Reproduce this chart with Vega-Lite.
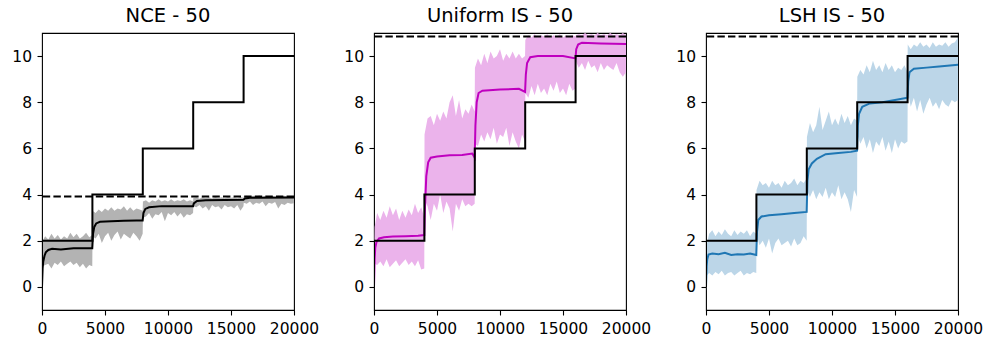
{
"$schema": "https://vega.github.io/schema/vega-lite/v6.json",
"padding": {"left": 11, "top": 4, "right": 0, "bottom": 0},
"bounds": "flush",
"spacing": 80,
"config": {
  "view": {"stroke": "black", "strokeWidth": 1.1},
  "axis": {"labelFont": "DejaVu Sans", "labelFontSize": 15.5, "labelColor": "black", "tickColor": "black", "tickSize": 5, "tickWidth": 1.1, "domain": false, "grid": false, "labelFlush": false, "labelOverlap": false, "title": null},
  "axisX": {"labelPadding": 6.5, "format": "d"},
  "axisY": {"labelPadding": 5.5},
  "title": {"font": "DejaVu Sans", "fontSize": 19.5, "fontWeight": "normal", "color": "black", "offset": 7}
},
"datasets": {
  "step": [
    {"x":0,"s":0,"i":0},{"x":0,"s":2,"i":1},{"x":4000,"s":2,"i":2},{"x":4000,"s":4,"i":3},{"x":8000,"s":4,"i":4},{"x":8000,"s":6,"i":5},{"x":12000,"s":6,"i":6},{"x":12000,"s":8,"i":7},{"x":16000,"s":8,"i":8},{"x":16000,"s":10,"i":9},{"x":20000,"s":10,"i":10}
  ],
  "ref": [{"p":"NCE","r":3.92},{"p":"UIS","r":10.85},{"p":"LSH","r":10.85}],
  "band": [
    {"p":"NCE","x":0,"lo":0,"hi":0.3},{"p":"NCE","x":50,"lo":0.9,"hi":2.0},{"p":"NCE","x":250,"lo":0.95,"hi":2.2},{"p":"NCE","x":500,"lo":1.0,"hi":2.05},{"p":"NCE","x":750,"lo":0.8,"hi":2.3},{"p":"NCE","x":1000,"lo":1.05,"hi":2.1},{"p":"NCE","x":1250,"lo":0.95,"hi":2.25},{"p":"NCE","x":1500,"lo":1.1,"hi":2.05},{"p":"NCE","x":1750,"lo":0.9,"hi":2.2},{"p":"NCE","x":2000,"lo":1.0,"hi":2.1},{"p":"NCE","x":2250,"lo":1.1,"hi":2.35},{"p":"NCE","x":2500,"lo":0.95,"hi":2.15},{"p":"NCE","x":2750,"lo":1.05,"hi":2.3},{"p":"NCE","x":3000,"lo":0.85,"hi":2.1},{"p":"NCE","x":3250,"lo":1.0,"hi":2.2},{"p":"NCE","x":3500,"lo":0.8,"hi":2.35},{"p":"NCE","x":3750,"lo":0.95,"hi":2.15},{"p":"NCE","x":3990,"lo":0.9,"hi":2.25},
    {"p":"NCE","x":4010,"lo":2.2,"hi":3.3},{"p":"NCE","x":4250,"lo":2.1,"hi":3.2},{"p":"NCE","x":4500,"lo":2.3,"hi":3.35},{"p":"NCE","x":4750,"lo":1.9,"hi":3.25},{"p":"NCE","x":5000,"lo":2.2,"hi":3.4},{"p":"NCE","x":5250,"lo":2.35,"hi":3.3},{"p":"NCE","x":5500,"lo":2.0,"hi":3.45},{"p":"NCE","x":5750,"lo":2.25,"hi":3.3},{"p":"NCE","x":6000,"lo":2.4,"hi":3.4},{"p":"NCE","x":6250,"lo":2.05,"hi":3.35},{"p":"NCE","x":6500,"lo":2.3,"hi":3.5},{"p":"NCE","x":6750,"lo":2.2,"hi":3.3},{"p":"NCE","x":7000,"lo":2.1,"hi":3.45},{"p":"NCE","x":7250,"lo":2.35,"hi":3.3},{"p":"NCE","x":7500,"lo":2.2,"hi":3.4},{"p":"NCE","x":7750,"lo":2.0,"hi":3.35},{"p":"NCE","x":7990,"lo":2.3,"hi":3.3},
    {"p":"NCE","x":8010,"lo":3.0,"hi":3.7},{"p":"NCE","x":8250,"lo":3.05,"hi":3.75},{"p":"NCE","x":8500,"lo":3.2,"hi":3.65},{"p":"NCE","x":8750,"lo":2.95,"hi":3.75},{"p":"NCE","x":9000,"lo":3.15,"hi":3.7},{"p":"NCE","x":9250,"lo":3.1,"hi":3.8},{"p":"NCE","x":9500,"lo":3.25,"hi":3.7},{"p":"NCE","x":9750,"lo":2.85,"hi":3.75},{"p":"NCE","x":10000,"lo":3.2,"hi":3.7},{"p":"NCE","x":10250,"lo":3.1,"hi":3.8},{"p":"NCE","x":10500,"lo":3.25,"hi":3.7},{"p":"NCE","x":10750,"lo":3.05,"hi":3.75},{"p":"NCE","x":11000,"lo":3.2,"hi":3.72},{"p":"NCE","x":11250,"lo":3.0,"hi":3.8},{"p":"NCE","x":11500,"lo":3.15,"hi":3.7},{"p":"NCE","x":11750,"lo":3.1,"hi":3.75},{"p":"NCE","x":11990,"lo":3.2,"hi":3.7},
    {"p":"NCE","x":12010,"lo":3.5,"hi":3.85},{"p":"NCE","x":12250,"lo":3.45,"hi":3.88},{"p":"NCE","x":12500,"lo":3.55,"hi":3.82},{"p":"NCE","x":12750,"lo":3.4,"hi":3.9},{"p":"NCE","x":13000,"lo":3.5,"hi":3.85},{"p":"NCE","x":13250,"lo":3.3,"hi":3.88},{"p":"NCE","x":13500,"lo":3.55,"hi":3.83},{"p":"NCE","x":13750,"lo":3.45,"hi":3.9},{"p":"NCE","x":14000,"lo":3.5,"hi":3.85},{"p":"NCE","x":14250,"lo":3.35,"hi":3.88},{"p":"NCE","x":14500,"lo":3.55,"hi":3.84},{"p":"NCE","x":14750,"lo":3.45,"hi":3.9},{"p":"NCE","x":15000,"lo":3.5,"hi":3.86},{"p":"NCE","x":15250,"lo":3.4,"hi":3.88},{"p":"NCE","x":15500,"lo":3.55,"hi":3.84},{"p":"NCE","x":15750,"lo":3.3,"hi":3.9},{"p":"NCE","x":15990,"lo":3.5,"hi":3.86},
    {"p":"NCE","x":16010,"lo":3.65,"hi":3.92},{"p":"NCE","x":16250,"lo":3.6,"hi":3.95},{"p":"NCE","x":16500,"lo":3.7,"hi":3.9},{"p":"NCE","x":16750,"lo":3.55,"hi":3.95},{"p":"NCE","x":17000,"lo":3.65,"hi":3.92},{"p":"NCE","x":17250,"lo":3.6,"hi":3.96},{"p":"NCE","x":17500,"lo":3.7,"hi":3.9},{"p":"NCE","x":17750,"lo":3.5,"hi":3.95},{"p":"NCE","x":18000,"lo":3.65,"hi":3.92},{"p":"NCE","x":18250,"lo":3.6,"hi":3.94},{"p":"NCE","x":18500,"lo":3.68,"hi":3.9},{"p":"NCE","x":18750,"lo":3.4,"hi":3.95},{"p":"NCE","x":19000,"lo":3.6,"hi":3.92},{"p":"NCE","x":19250,"lo":3.55,"hi":3.95},{"p":"NCE","x":19500,"lo":3.65,"hi":3.9},{"p":"NCE","x":19750,"lo":3.6,"hi":3.94},{"p":"NCE","x":20000,"lo":3.62,"hi":3.92},

    {"p":"UIS","x":0,"lo":0,"hi":0.2},{"p":"UIS","x":50,"lo":1.0,"hi":2.6},{"p":"UIS","x":250,"lo":0.95,"hi":3.2},{"p":"UIS","x":500,"lo":1.1,"hi":2.9},{"p":"UIS","x":750,"lo":0.9,"hi":3.3},{"p":"UIS","x":1000,"lo":1.2,"hi":3.0},{"p":"UIS","x":1250,"lo":0.85,"hi":3.5},{"p":"UIS","x":1500,"lo":1.0,"hi":3.1},{"p":"UIS","x":1750,"lo":1.15,"hi":3.4},{"p":"UIS","x":2000,"lo":0.9,"hi":2.9},{"p":"UIS","x":2250,"lo":1.05,"hi":3.3},{"p":"UIS","x":2500,"lo":1.2,"hi":3.0},{"p":"UIS","x":2750,"lo":0.95,"hi":3.35},{"p":"UIS","x":3000,"lo":1.1,"hi":3.1},{"p":"UIS","x":3250,"lo":0.9,"hi":3.6},{"p":"UIS","x":3500,"lo":1.15,"hi":3.2},{"p":"UIS","x":3750,"lo":0.75,"hi":3.45},{"p":"UIS","x":3990,"lo":0.8,"hi":3.0},
    {"p":"UIS","x":4010,"lo":3.8,"hi":6.6},{"p":"UIS","x":4250,"lo":3.5,"hi":7.3},{"p":"UIS","x":4500,"lo":2.9,"hi":7.4},{"p":"UIS","x":4750,"lo":3.6,"hi":7.0},{"p":"UIS","x":5000,"lo":3.3,"hi":7.5},{"p":"UIS","x":5250,"lo":4.0,"hi":7.2},{"p":"UIS","x":5500,"lo":3.2,"hi":7.6},{"p":"UIS","x":5750,"lo":3.7,"hi":7.3},{"p":"UIS","x":6000,"lo":3.4,"hi":8.0},{"p":"UIS","x":6250,"lo":2.4,"hi":8.3},{"p":"UIS","x":6500,"lo":3.6,"hi":7.4},{"p":"UIS","x":6750,"lo":3.3,"hi":8.1},{"p":"UIS","x":7000,"lo":3.8,"hi":7.3},{"p":"UIS","x":7250,"lo":3.5,"hi":7.7},{"p":"UIS","x":7500,"lo":3.6,"hi":7.5},{"p":"UIS","x":7750,"lo":3.5,"hi":7.9},{"p":"UIS","x":7990,"lo":3.6,"hi":7.6},
    {"p":"UIS","x":8010,"lo":6.2,"hi":9.5},{"p":"UIS","x":8250,"lo":6.1,"hi":9.9},{"p":"UIS","x":8500,"lo":6.6,"hi":9.6},{"p":"UIS","x":8750,"lo":6.3,"hi":10.1},{"p":"UIS","x":9000,"lo":6.7,"hi":9.7},{"p":"UIS","x":9250,"lo":6.4,"hi":10.2},{"p":"UIS","x":9500,"lo":6.9,"hi":9.9},{"p":"UIS","x":9750,"lo":6.2,"hi":10.0},{"p":"UIS","x":10000,"lo":6.6,"hi":10.3},{"p":"UIS","x":10250,"lo":6.5,"hi":9.8},{"p":"UIS","x":10500,"lo":6.9,"hi":10.1},{"p":"UIS","x":10750,"lo":6.1,"hi":9.9},{"p":"UIS","x":11000,"lo":6.7,"hi":10.2},{"p":"UIS","x":11250,"lo":6.3,"hi":9.9},{"p":"UIS","x":11500,"lo":6.0,"hi":10.1},{"p":"UIS","x":11750,"lo":6.6,"hi":9.9},{"p":"UIS","x":11990,"lo":6.3,"hi":10.0},
    {"p":"UIS","x":12010,"lo":8.4,"hi":10.7},{"p":"UIS","x":12250,"lo":8.2,"hi":10.9},{"p":"UIS","x":12500,"lo":8.7,"hi":10.8},{"p":"UIS","x":12750,"lo":8.3,"hi":10.95},{"p":"UIS","x":13000,"lo":8.8,"hi":10.8},{"p":"UIS","x":13250,"lo":8.4,"hi":10.9},{"p":"UIS","x":13500,"lo":8.6,"hi":10.85},{"p":"UIS","x":13750,"lo":8.3,"hi":10.95},{"p":"UIS","x":14000,"lo":8.8,"hi":10.8},{"p":"UIS","x":14250,"lo":8.5,"hi":10.9},{"p":"UIS","x":14500,"lo":8.9,"hi":10.85},{"p":"UIS","x":14750,"lo":8.4,"hi":10.95},{"p":"UIS","x":15000,"lo":8.6,"hi":10.8},{"p":"UIS","x":15250,"lo":8.3,"hi":10.9},{"p":"UIS","x":15500,"lo":8.8,"hi":10.85},{"p":"UIS","x":15750,"lo":8.5,"hi":10.9},{"p":"UIS","x":15990,"lo":8.6,"hi":10.85},
    {"p":"UIS","x":16010,"lo":9.8,"hi":10.9},{"p":"UIS","x":16250,"lo":9.5,"hi":10.95},{"p":"UIS","x":16500,"lo":9.7,"hi":10.9},{"p":"UIS","x":16750,"lo":9.4,"hi":11.0},{"p":"UIS","x":17000,"lo":9.8,"hi":10.9},{"p":"UIS","x":17250,"lo":9.5,"hi":10.95},{"p":"UIS","x":17500,"lo":9.6,"hi":10.9},{"p":"UIS","x":17750,"lo":9.3,"hi":11.0},{"p":"UIS","x":18000,"lo":9.7,"hi":10.9},{"p":"UIS","x":18250,"lo":9.4,"hi":10.95},{"p":"UIS","x":18500,"lo":9.6,"hi":10.9},{"p":"UIS","x":18750,"lo":9.5,"hi":11.0},{"p":"UIS","x":19000,"lo":9.4,"hi":10.9},{"p":"UIS","x":19250,"lo":9.7,"hi":10.95},{"p":"UIS","x":19500,"lo":9.3,"hi":10.9},{"p":"UIS","x":19750,"lo":9.1,"hi":11.0},{"p":"UIS","x":20000,"lo":9.3,"hi":10.9},

    {"p":"LSH","x":0,"lo":-0.2,"hi":0.3},{"p":"LSH","x":50,"lo":0.5,"hi":1.8},{"p":"LSH","x":250,"lo":0.6,"hi":2.3},{"p":"LSH","x":500,"lo":0.5,"hi":2.45},{"p":"LSH","x":750,"lo":0.65,"hi":2.2},{"p":"LSH","x":1000,"lo":0.55,"hi":2.4},{"p":"LSH","x":1250,"lo":0.7,"hi":2.25},{"p":"LSH","x":1500,"lo":0.5,"hi":2.5},{"p":"LSH","x":1750,"lo":0.6,"hi":2.3},{"p":"LSH","x":2000,"lo":0.65,"hi":2.2},{"p":"LSH","x":2250,"lo":0.5,"hi":2.45},{"p":"LSH","x":2500,"lo":0.6,"hi":2.25},{"p":"LSH","x":2750,"lo":0.7,"hi":2.4},{"p":"LSH","x":3000,"lo":0.5,"hi":2.3},{"p":"LSH","x":3250,"lo":0.6,"hi":2.45},{"p":"LSH","x":3500,"lo":0.55,"hi":2.2},{"p":"LSH","x":3750,"lo":0.65,"hi":2.4},{"p":"LSH","x":3990,"lo":0.6,"hi":2.3},
    {"p":"LSH","x":4010,"lo":2.3,"hi":4.2},{"p":"LSH","x":4250,"lo":1.8,"hi":4.6},{"p":"LSH","x":4500,"lo":2.0,"hi":4.4},{"p":"LSH","x":4750,"lo":1.7,"hi":4.5},{"p":"LSH","x":5000,"lo":2.1,"hi":4.3},{"p":"LSH","x":5250,"lo":1.45,"hi":4.6},{"p":"LSH","x":5500,"lo":1.9,"hi":4.4},{"p":"LSH","x":5750,"lo":2.1,"hi":4.5},{"p":"LSH","x":6000,"lo":1.8,"hi":4.3},{"p":"LSH","x":6250,"lo":1.9,"hi":4.6},{"p":"LSH","x":6500,"lo":2.0,"hi":4.4},{"p":"LSH","x":6750,"lo":1.75,"hi":4.5},{"p":"LSH","x":7000,"lo":2.1,"hi":4.7},{"p":"LSH","x":7250,"lo":1.8,"hi":4.4},{"p":"LSH","x":7500,"lo":1.9,"hi":4.6},{"p":"LSH","x":7750,"lo":2.2,"hi":4.5},{"p":"LSH","x":7990,"lo":2.0,"hi":4.7},
    {"p":"LSH","x":8010,"lo":4.2,"hi":6.5},{"p":"LSH","x":8250,"lo":3.9,"hi":7.1},{"p":"LSH","x":8500,"lo":4.2,"hi":6.7},{"p":"LSH","x":8750,"lo":3.8,"hi":7.0},{"p":"LSH","x":9000,"lo":4.1,"hi":7.8},{"p":"LSH","x":9250,"lo":3.9,"hi":6.8},{"p":"LSH","x":9500,"lo":4.3,"hi":7.2},{"p":"LSH","x":9750,"lo":3.8,"hi":7.6},{"p":"LSH","x":10000,"lo":4.1,"hi":7.0},{"p":"LSH","x":10250,"lo":3.9,"hi":7.3},{"p":"LSH","x":10500,"lo":4.4,"hi":7.0},{"p":"LSH","x":10750,"lo":3.8,"hi":7.5},{"p":"LSH","x":11000,"lo":4.1,"hi":7.1},{"p":"LSH","x":11250,"lo":3.8,"hi":7.4},{"p":"LSH","x":11500,"lo":3.25,"hi":7.0},{"p":"LSH","x":11750,"lo":4.2,"hi":7.3},{"p":"LSH","x":11990,"lo":3.9,"hi":7.2},
    {"p":"LSH","x":12010,"lo":6.6,"hi":9.1},{"p":"LSH","x":12250,"lo":6.2,"hi":9.4},{"p":"LSH","x":12500,"lo":6.5,"hi":9.2},{"p":"LSH","x":12750,"lo":6.0,"hi":9.6},{"p":"LSH","x":13000,"lo":6.4,"hi":9.3},{"p":"LSH","x":13250,"lo":5.8,"hi":9.8},{"p":"LSH","x":13500,"lo":6.3,"hi":9.4},{"p":"LSH","x":13750,"lo":6.1,"hi":9.6},{"p":"LSH","x":14000,"lo":6.5,"hi":9.3},{"p":"LSH","x":14250,"lo":5.9,"hi":9.7},{"p":"LSH","x":14500,"lo":6.3,"hi":9.4},{"p":"LSH","x":14750,"lo":5.8,"hi":9.6},{"p":"LSH","x":15000,"lo":6.4,"hi":9.3},{"p":"LSH","x":15250,"lo":6.0,"hi":9.5},{"p":"LSH","x":15500,"lo":6.3,"hi":9.4},{"p":"LSH","x":15750,"lo":6.2,"hi":9.6},{"p":"LSH","x":15990,"lo":6.3,"hi":9.3},
    {"p":"LSH","x":16010,"lo":8.5,"hi":10.5},{"p":"LSH","x":16250,"lo":7.8,"hi":10.3},{"p":"LSH","x":16500,"lo":8.2,"hi":10.5},{"p":"LSH","x":16750,"lo":7.6,"hi":10.4},{"p":"LSH","x":17000,"lo":8.1,"hi":10.6},{"p":"LSH","x":17250,"lo":7.5,"hi":10.4},{"p":"LSH","x":17500,"lo":7.9,"hi":10.5},{"p":"LSH","x":17750,"lo":8.2,"hi":10.35},{"p":"LSH","x":18000,"lo":7.8,"hi":10.6},{"p":"LSH","x":18250,"lo":8.0,"hi":10.4},{"p":"LSH","x":18500,"lo":7.7,"hi":10.5},{"p":"LSH","x":18750,"lo":8.1,"hi":10.45},{"p":"LSH","x":19000,"lo":7.9,"hi":10.6},{"p":"LSH","x":19250,"lo":7.8,"hi":10.4},{"p":"LSH","x":19500,"lo":8.1,"hi":10.55},{"p":"LSH","x":19750,"lo":8.0,"hi":10.6},{"p":"LSH","x":20000,"lo":8.1,"hi":10.8}
  ],
  "mean": [
    {"p":"NCE","x":0,"m":0},{"p":"NCE","x":50,"m":0.8},{"p":"NCE","x":100,"m":1.1},{"p":"NCE","x":200,"m":1.35},{"p":"NCE","x":300,"m":1.5},{"p":"NCE","x":500,"m":1.6},{"p":"NCE","x":800,"m":1.65},{"p":"NCE","x":1500,"m":1.62},{"p":"NCE","x":2500,"m":1.67},{"p":"NCE","x":3500,"m":1.68},{"p":"NCE","x":3990,"m":1.68},{"p":"NCE","x":4050,"m":2.3},{"p":"NCE","x":4150,"m":2.6},{"p":"NCE","x":4300,"m":2.75},{"p":"NCE","x":4600,"m":2.82},{"p":"NCE","x":5500,"m":2.85},{"p":"NCE","x":6500,"m":2.87},{"p":"NCE","x":7500,"m":2.88},{"p":"NCE","x":7990,"m":2.88},{"p":"NCE","x":8050,"m":3.2},{"p":"NCE","x":8200,"m":3.38},{"p":"NCE","x":8500,"m":3.45},{"p":"NCE","x":9500,"m":3.5},{"p":"NCE","x":10500,"m":3.5},{"p":"NCE","x":11990,"m":3.5},{"p":"NCE","x":12050,"m":3.62},{"p":"NCE","x":12300,"m":3.72},{"p":"NCE","x":13000,"m":3.75},{"p":"NCE","x":15990,"m":3.78},{"p":"NCE","x":16100,"m":3.83},{"p":"NCE","x":16500,"m":3.86},{"p":"NCE","x":20000,"m":3.87},
    {"p":"UIS","x":0,"m":0},{"p":"UIS","x":50,"m":1.2},{"p":"UIS","x":100,"m":1.7},{"p":"UIS","x":200,"m":1.95},{"p":"UIS","x":400,"m":2.1},{"p":"UIS","x":800,"m":2.15},{"p":"UIS","x":1500,"m":2.18},{"p":"UIS","x":2500,"m":2.2},{"p":"UIS","x":3500,"m":2.22},{"p":"UIS","x":3990,"m":2.25},{"p":"UIS","x":4050,"m":3.5},{"p":"UIS","x":4150,"m":4.8},{"p":"UIS","x":4300,"m":5.4},{"p":"UIS","x":4500,"m":5.6},{"p":"UIS","x":5000,"m":5.65},{"p":"UIS","x":6000,"m":5.7},{"p":"UIS","x":7000,"m":5.72},{"p":"UIS","x":7800,"m":5.78},{"p":"UIS","x":7990,"m":5.6},{"p":"UIS","x":8050,"m":7.0},{"p":"UIS","x":8150,"m":8.0},{"p":"UIS","x":8300,"m":8.4},{"p":"UIS","x":8600,"m":8.5},{"p":"UIS","x":10000,"m":8.55},{"p":"UIS","x":11500,"m":8.58},{"p":"UIS","x":11990,"m":8.45},{"p":"UIS","x":12050,"m":9.2},{"p":"UIS","x":12150,"m":9.7},{"p":"UIS","x":12400,"m":9.95},{"p":"UIS","x":13000,"m":10.0},{"p":"UIS","x":15000,"m":10.0},{"p":"UIS","x":15990,"m":9.9},{"p":"UIS","x":16050,"m":10.3},{"p":"UIS","x":16200,"m":10.5},{"p":"UIS","x":16500,"m":10.58},{"p":"UIS","x":18000,"m":10.55},{"p":"UIS","x":20000,"m":10.52},
    {"p":"LSH","x":0,"m":0},{"p":"LSH","x":50,"m":0.9},{"p":"LSH","x":100,"m":1.2},{"p":"LSH","x":200,"m":1.4},{"p":"LSH","x":500,"m":1.45},{"p":"LSH","x":1000,"m":1.42},{"p":"LSH","x":1500,"m":1.48},{"p":"LSH","x":2000,"m":1.38},{"p":"LSH","x":2500,"m":1.42},{"p":"LSH","x":3000,"m":1.4},{"p":"LSH","x":3500,"m":1.45},{"p":"LSH","x":3990,"m":1.38},{"p":"LSH","x":4050,"m":2.4},{"p":"LSH","x":4150,"m":2.9},{"p":"LSH","x":4400,"m":3.05},{"p":"LSH","x":5000,"m":3.1},{"p":"LSH","x":6000,"m":3.15},{"p":"LSH","x":7000,"m":3.2},{"p":"LSH","x":7990,"m":3.25},{"p":"LSH","x":8050,"m":4.6},{"p":"LSH","x":8150,"m":5.1},{"p":"LSH","x":8400,"m":5.35},{"p":"LSH","x":8800,"m":5.55},{"p":"LSH","x":9500,"m":5.75},{"p":"LSH","x":10500,"m":5.8},{"p":"LSH","x":11500,"m":5.85},{"p":"LSH","x":11990,"m":5.9},{"p":"LSH","x":12050,"m":7.0},{"p":"LSH","x":12150,"m":7.5},{"p":"LSH","x":12400,"m":7.8},{"p":"LSH","x":13000,"m":7.95},{"p":"LSH","x":14000,"m":8.0},{"p":"LSH","x":15000,"m":8.1},{"p":"LSH","x":15990,"m":8.2},{"p":"LSH","x":16050,"m":8.9},{"p":"LSH","x":16150,"m":9.3},{"p":"LSH","x":16500,"m":9.45},{"p":"LSH","x":17500,"m":9.5},{"p":"LSH","x":18500,"m":9.55},{"p":"LSH","x":20000,"m":9.62}
  ]
},
"hconcat": [
  {
    "title": "NCE - 50", "width": 252, "height": 277,
    "layer": [
      {"data": {"name": "band"}, "transform": [{"filter": {"field": "p", "equal": "NCE"}}], "mark": {"type": "area", "color": "#b3b3b3", "clip": true},
       "encoding": {"x": {"field": "x", "type": "quantitative", "scale": {"domain": [0, 20000], "nice": false}, "axis": {"values": [0, 5000, 10000, 15000, 20000]}},
                    "y": {"field": "lo", "type": "quantitative", "scale": {"domain": [-1, 11], "nice": false, "zero": false}, "axis": {"values": [0, 2, 4, 6, 8, 10]}},
                    "y2": {"field": "hi"}}},
      {"data": {"name": "mean"}, "transform": [{"filter": {"field": "p", "equal": "NCE"}}], "mark": {"type": "line", "color": "black", "strokeWidth": 2, "clip": true},
       "encoding": {"x": {"field": "x", "type": "quantitative"}, "y": {"field": "m", "type": "quantitative"}}},
      {"data": {"name": "step"}, "mark": {"type": "line", "color": "black", "strokeWidth": 2, "clip": true},
       "encoding": {"x": {"field": "x", "type": "quantitative"}, "y": {"field": "s", "type": "quantitative"}, "order": {"field": "i"}}},
      {"data": {"name": "ref"}, "transform": [{"filter": {"field": "p", "equal": "NCE"}}], "mark": {"type": "rule", "color": "black", "strokeWidth": 2, "strokeDash": [7.4, 3.2]},
       "encoding": {"y": {"field": "r", "type": "quantitative"}}}
    ]
  },
  {
    "title": "Uniform IS - 50", "width": 252, "height": 277,
    "layer": [
      {"data": {"name": "band"}, "transform": [{"filter": {"field": "p", "equal": "UIS"}}], "mark": {"type": "area", "color": "#ebb3eb", "clip": true},
       "encoding": {"x": {"field": "x", "type": "quantitative", "scale": {"domain": [0, 20000], "nice": false}, "axis": {"values": [0, 5000, 10000, 15000, 20000]}},
                    "y": {"field": "lo", "type": "quantitative", "scale": {"domain": [-1, 11], "nice": false, "zero": false}, "axis": {"values": [0, 2, 4, 6, 8, 10]}},
                    "y2": {"field": "hi"}}},
      {"data": {"name": "mean"}, "transform": [{"filter": {"field": "p", "equal": "UIS"}}], "mark": {"type": "line", "color": "#bf00bf", "strokeWidth": 2, "clip": true},
       "encoding": {"x": {"field": "x", "type": "quantitative"}, "y": {"field": "m", "type": "quantitative"}}},
      {"data": {"name": "step"}, "mark": {"type": "line", "color": "black", "strokeWidth": 2, "clip": true},
       "encoding": {"x": {"field": "x", "type": "quantitative"}, "y": {"field": "s", "type": "quantitative"}, "order": {"field": "i"}}},
      {"data": {"name": "ref"}, "transform": [{"filter": {"field": "p", "equal": "UIS"}}], "mark": {"type": "rule", "color": "black", "strokeWidth": 2, "strokeDash": [7.4, 3.2]},
       "encoding": {"y": {"field": "r", "type": "quantitative"}}}
    ]
  },
  {
    "title": "LSH IS - 50", "width": 252, "height": 277,
    "layer": [
      {"data": {"name": "band"}, "transform": [{"filter": {"field": "p", "equal": "LSH"}}], "mark": {"type": "area", "color": "#bcd6e8", "clip": true},
       "encoding": {"x": {"field": "x", "type": "quantitative", "scale": {"domain": [0, 20000], "nice": false}, "axis": {"values": [0, 5000, 10000, 15000, 20000]}},
                    "y": {"field": "lo", "type": "quantitative", "scale": {"domain": [-1, 11], "nice": false, "zero": false}, "axis": {"values": [0, 2, 4, 6, 8, 10]}},
                    "y2": {"field": "hi"}}},
      {"data": {"name": "mean"}, "transform": [{"filter": {"field": "p", "equal": "LSH"}}], "mark": {"type": "line", "color": "#1f77b4", "strokeWidth": 2, "clip": true},
       "encoding": {"x": {"field": "x", "type": "quantitative"}, "y": {"field": "m", "type": "quantitative"}}},
      {"data": {"name": "step"}, "mark": {"type": "line", "color": "black", "strokeWidth": 2, "clip": true},
       "encoding": {"x": {"field": "x", "type": "quantitative"}, "y": {"field": "s", "type": "quantitative"}, "order": {"field": "i"}}},
      {"data": {"name": "ref"}, "transform": [{"filter": {"field": "p", "equal": "LSH"}}], "mark": {"type": "rule", "color": "black", "strokeWidth": 2, "strokeDash": [7.4, 3.2]},
       "encoding": {"y": {"field": "r", "type": "quantitative"}}}
    ]
  }
]
}
